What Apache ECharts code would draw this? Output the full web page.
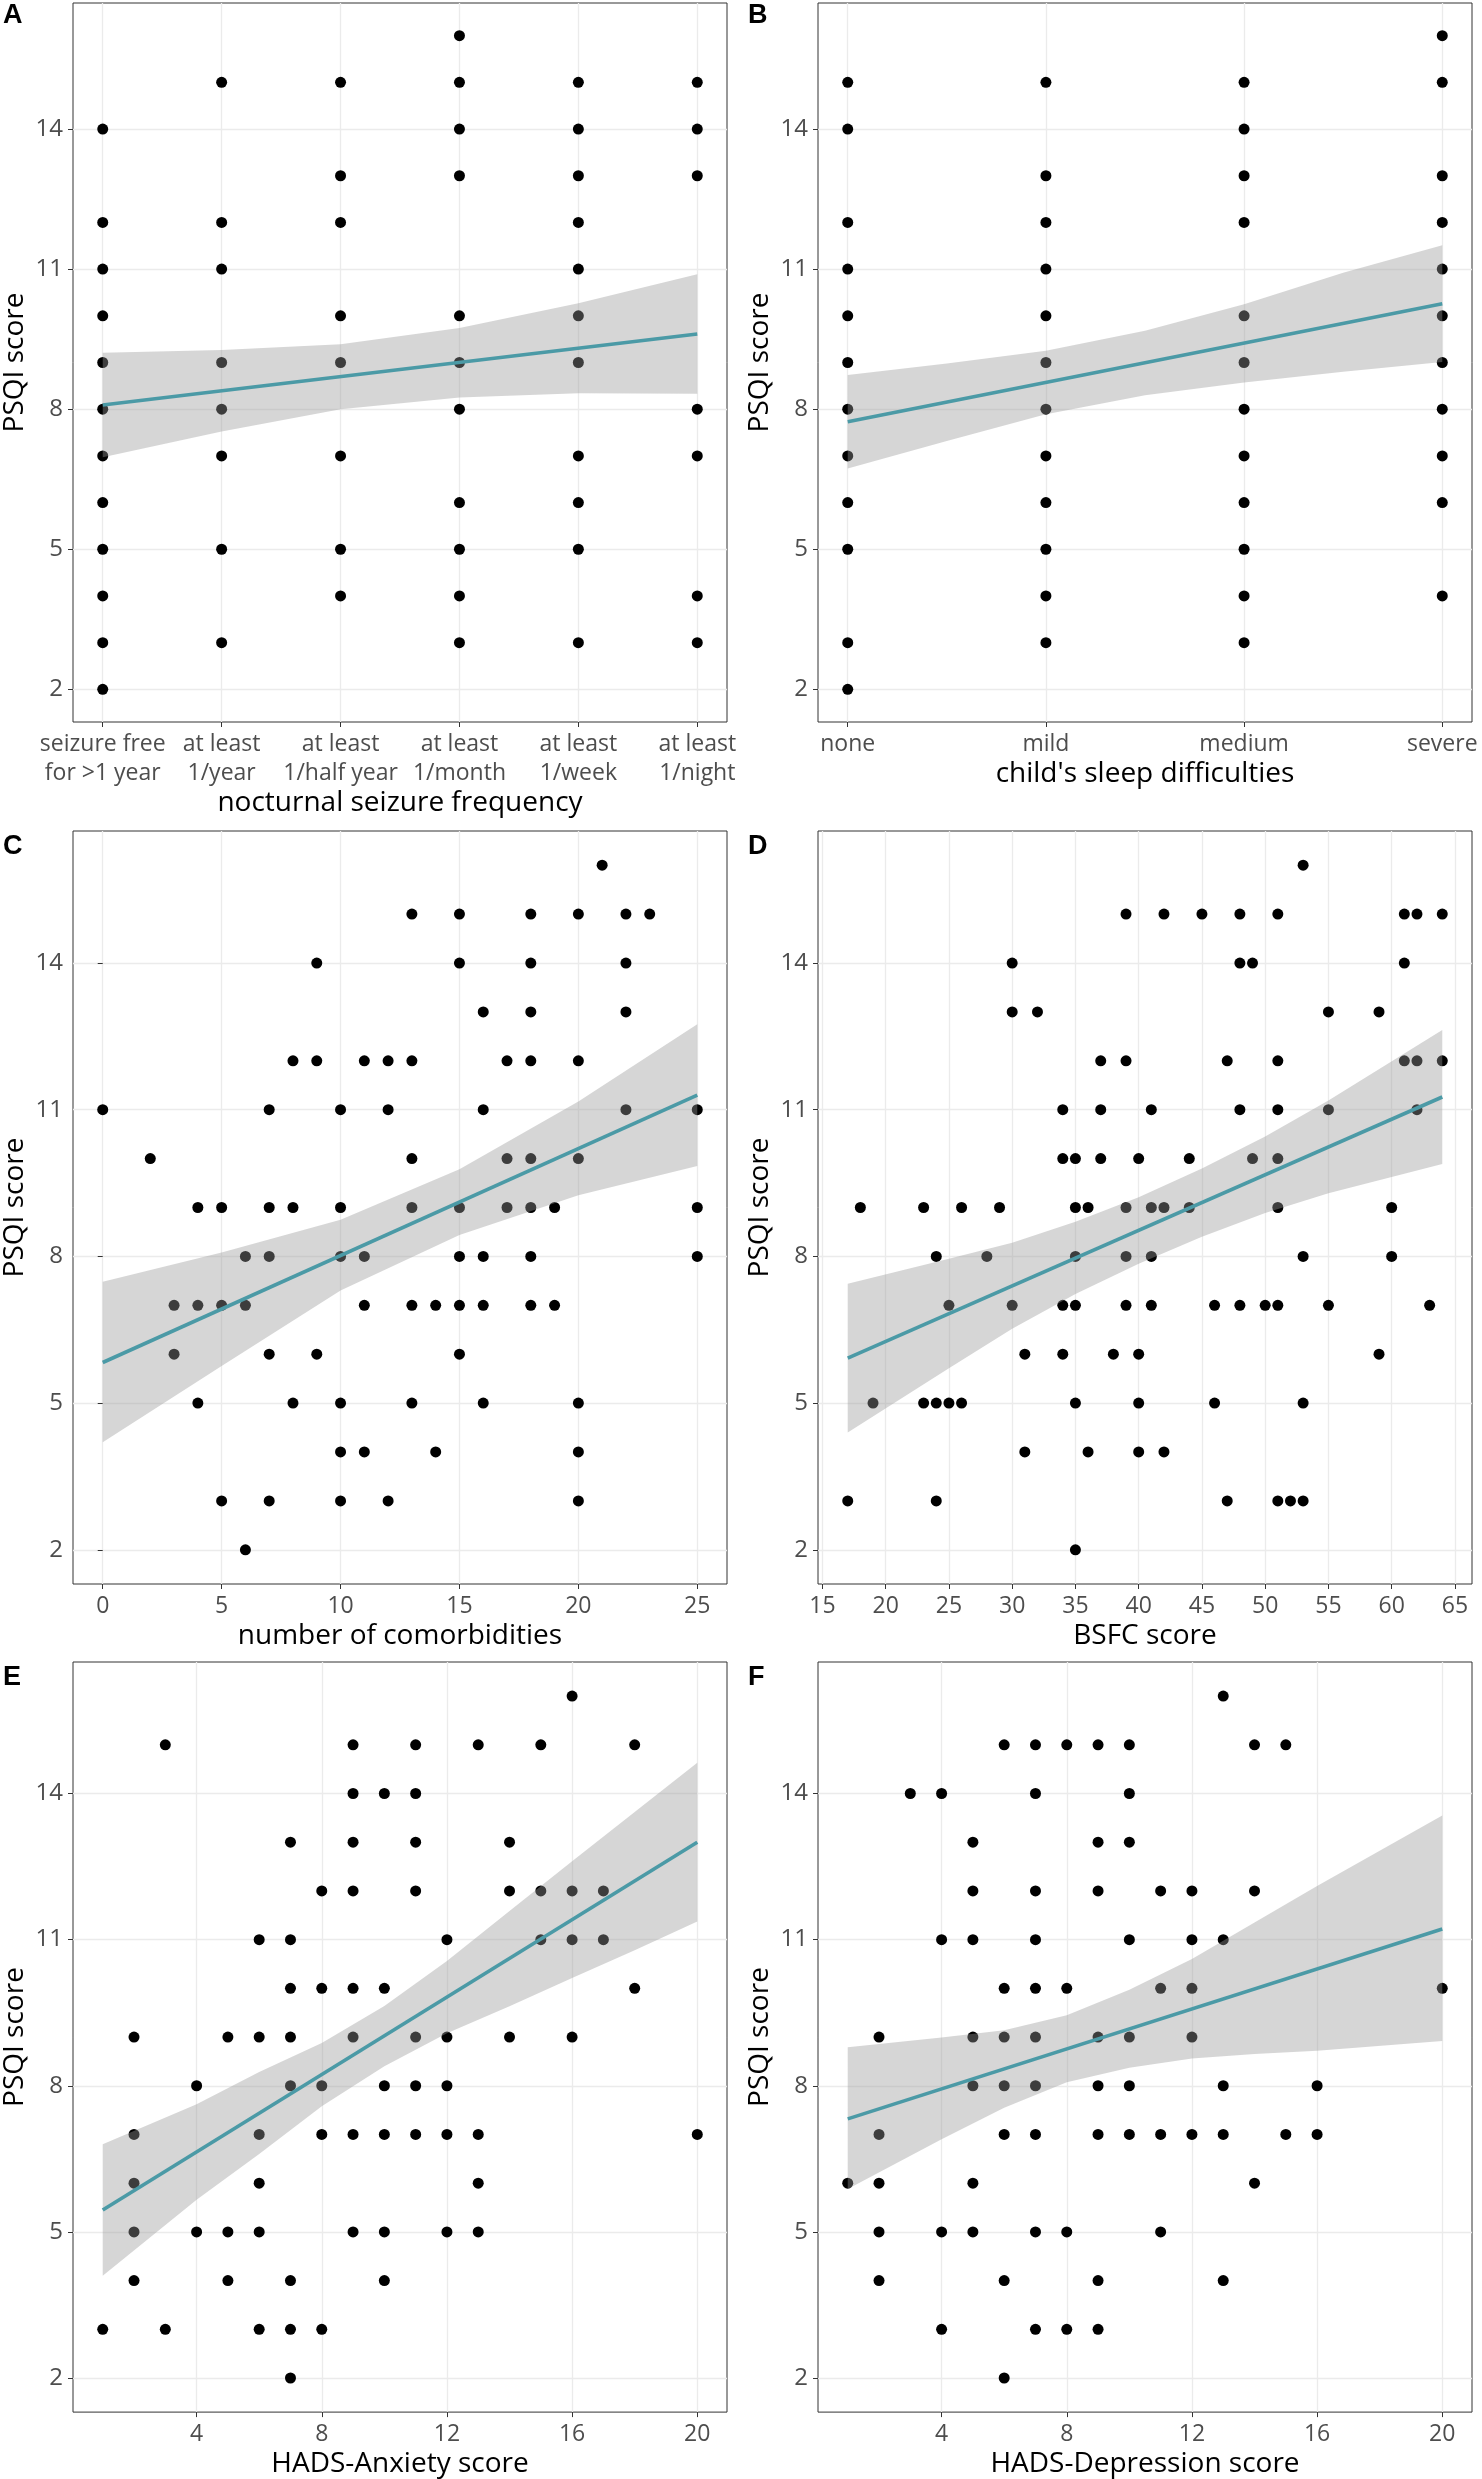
<!DOCTYPE html>
<html lang="en">
<head>
<meta charset="UTF-8">
<title>PSQI score</title>
<script src="https://cdn.jsdelivr.net/npm/echarts@6/dist/echarts.min.js"></script>
<style>
  html, body { margin: 0; padding: 0; background: #fff; }
  #main { width: 1482px; height: 2479px; }
</style>
</head>
<body>
<div id="main"></div>
<script type="text/javascript">
// ---- data ----
var psqiTicks = [2, 5, 8, 11, 14];

// A: nocturnal seizure frequency (one list of PSQI scores per category)
var seizureLabels = ['seizure free\nfor >1 year', 'at least\n1/year', 'at least\n1/half year',
                     'at least\n1/month', 'at least\n1/week', 'at least\n1/night'];
var seizureScores = [
    [14, 12, 11, 10, 9, 8, 7, 6, 5, 4, 3, 2],
    [15, 12, 11, 9, 8, 7, 5, 3],
    [15, 13, 12, 10, 9, 7, 5, 4],
    [16, 15, 14, 13, 10, 9, 8, 6, 5, 4, 3],
    [15, 14, 13, 12, 11, 10, 9, 7, 6, 5, 3],
    [15, 14, 13, 8, 7, 4, 3]
];
var seizureFit = [[1, 8.09], [6, 9.61]];
var seizureBandX = [1, 2, 3, 4, 5, 6];
var seizureBandLo = [6.97, 7.52, 8.00, 8.25, 8.34, 8.33];
var seizureBandHi = [9.21, 9.27, 9.39, 9.74, 10.27, 10.89];

// B: child's sleep difficulties
var sleepLabels = ['none', 'mild', 'medium', 'severe'];
var sleepScores = [
    [15, 14, 12, 11, 10, 9, 8, 7, 6, 5, 3, 2],
    [15, 13, 12, 11, 10, 9, 8, 7, 6, 5, 4, 3],
    [15, 14, 13, 12, 10, 9, 8, 7, 6, 5, 4, 3],
    [16, 15, 13, 12, 11, 10, 9, 8, 7, 6, 4]
];
var sleepFit = [[1, 7.73], [4, 10.26]];
var sleepBandX = [1, 1.5, 2, 2.5, 3, 3.5, 4];
var sleepBandLo = [6.73, 7.32, 7.89, 8.30, 8.57, 8.80, 9.01];
var sleepBandHi = [8.73, 8.98, 9.25, 9.68, 10.25, 10.92, 11.51];

// C: number of comorbidities
var comorbX = [0, 2, 3, 4, 5, 6, 7, 8, 9, 10, 11, 12, 13, 14, 15, 16, 17, 18, 19, 20, 21, 22, 23, 25];
var comorbScores = [
    [11], [10], [7, 6], [9, 7, 5], [9, 7, 3], [8, 7, 2], [11, 9, 8, 6, 3], [12, 9, 5],
    [14, 12, 6], [11, 9, 8, 5, 4, 3], [12, 8, 7, 4], [12, 11, 3], [15, 12, 10, 9, 7, 5],
    [7, 4], [15, 14, 9, 8, 7, 6], [13, 11, 8, 7, 5], [12, 10, 9], [15, 14, 13, 12, 10, 9, 8, 7],
    [9, 7], [15, 12, 10, 5, 4, 3], [16], [15, 14, 13, 11], [15], [11, 9, 8]
];
var comorbTicks = [0, 5, 10, 15, 20, 25];
var comorbFit = [[0, 5.83], [25, 11.30]];
var comorbBandX = [0, 5, 10, 15, 20, 25];
var comorbBandLo = [4.20, 5.76, 7.30, 8.44, 9.25, 9.85];
var comorbBandHi = [7.48, 8.08, 8.75, 9.78, 11.17, 12.75];

// D: BSFC score
var bsfcX = [17, 18, 19, 23, 24, 25, 26, 28, 29, 30, 31, 32, 34, 35, 36, 37, 38, 39, 40, 41, 42,
             44, 45, 46, 47, 48, 49, 50, 51, 52, 53, 55, 59, 60, 61, 62, 63, 64];
var bsfcScores = [
    [3], [9], [5], [9, 5], [8, 5, 3], [7, 5], [9, 5], [8], [9], [14, 13, 7], [6, 4], [13],
    [11, 10, 7, 6], [10, 9, 8, 7, 5, 2], [9, 4], [12, 11, 10], [6], [15, 12, 9, 8, 7],
    [10, 6, 5, 4], [11, 9, 8, 7], [15, 9, 4], [10, 9], [15], [7, 5], [12, 3], [15, 14, 11, 7],
    [14, 10], [7], [15, 12, 11, 10, 9, 7, 3], [3], [16, 8, 5, 3], [13, 11, 7], [13, 6], [9, 8],
    [15, 14, 12], [15, 12, 11], [7], [15, 12]
];
var bsfcTicks = [15, 20, 25, 30, 35, 40, 45, 50, 55, 60, 65];
var bsfcFit = [[17, 5.92], [64, 11.26]];
var bsfcBandX = [17, 25, 30, 35, 40, 45, 50, 55, 64];
var bsfcBandLo = [4.40, 5.71, 6.52, 7.23, 7.85, 8.40, 8.89, 9.29, 9.89];
var bsfcBandHi = [7.44, 7.95, 8.28, 8.71, 9.21, 9.80, 10.45, 11.19, 12.63];

// E: HADS-Anxiety score
var anxX = [1, 2, 3, 4, 5, 6, 7, 8, 9, 10, 11, 12, 13, 14, 15, 16, 17, 18, 20];
var anxScores = [
    [3], [9, 7, 6, 5, 4], [15, 3], [8, 5], [9, 5, 4], [11, 9, 7, 6, 5, 3],
    [13, 11, 10, 9, 8, 4, 3, 2], [12, 10, 8, 7, 3], [15, 14, 13, 12, 10, 9, 7, 5],
    [14, 10, 8, 7, 5, 4], [15, 14, 13, 12, 9, 8, 7], [11, 9, 8, 7, 5], [15, 7, 6, 5],
    [13, 12, 9], [15, 12, 11], [16, 12, 11, 9], [12, 11], [15, 10], [7]
];
var hadsTicks = [4, 8, 12, 16, 20];
var anxFit = [[1, 5.45], [20, 13.0]];
var anxBandX = [1, 4, 6, 8, 10, 12, 14, 16, 18, 20];
var anxBandLo = [4.10, 5.66, 6.60, 7.58, 8.40, 9.08, 9.63, 10.21, 10.78, 11.37];
var anxBandHi = [6.80, 7.62, 8.28, 8.88, 9.64, 10.56, 11.59, 12.61, 13.62, 14.63];

// F: HADS-Depression score
var depX = [1, 2, 3, 4, 5, 6, 7, 8, 9, 10, 11, 12, 13, 14, 15, 16, 20];
var depScores = [
    [6], [9, 7, 6, 5, 4], [14], [14, 11, 5, 3], [13, 12, 11, 9, 8, 6, 5],
    [15, 10, 9, 8, 7, 4, 2], [15, 14, 12, 11, 10, 9, 8, 7, 5, 3], [15, 10, 5, 3],
    [15, 13, 12, 9, 8, 7, 4, 3], [15, 14, 13, 11, 9, 8, 7], [12, 10, 7, 5],
    [12, 11, 10, 9, 7], [16, 11, 8, 7, 4], [15, 12, 6], [15, 7], [8, 7], [10]
];
var depFit = [[1, 7.32], [20, 11.22]];
var depBandX = [1, 4, 6, 8, 10, 12, 14, 16, 20];
var depBandLo = [5.88, 6.90, 7.55, 8.07, 8.37, 8.56, 8.65, 8.72, 8.92];
var depBandHi = [8.79, 8.99, 9.14, 9.45, 9.97, 10.60, 11.35, 12.10, 13.55];

// ---- chart ----
var FONT = 'Open Sans';
var lineColor = '#4b9aa6';
var bandColor = 'rgba(153,153,153,0.4)';

function toPoints(xs, groups) {
    var pts = [];
    for (var i = 0; i < xs.length; i++) {
        for (var j = 0; j < groups[i].length; j++) {
            pts.push([xs[i], groups[i][j]]);
        }
    }
    return pts;
}

function indexList(labels) {
    return labels.map(function (l, i) { return i + 1; });
}

var panels = [
    {xs: indexList(seizureLabels), scores: seizureScores, fit: seizureFit,
     bx: seizureBandX, lo: seizureBandLo, hi: seizureBandHi,
     min: 0.75, max: 6.25, ticks: indexList(seizureLabels), labels: seizureLabels,
     name: 'nocturnal seizure frequency', nameGap: 63},
    {xs: indexList(sleepLabels), scores: sleepScores, fit: sleepFit,
     bx: sleepBandX, lo: sleepBandLo, hi: sleepBandHi,
     min: 0.85, max: 4.15, ticks: indexList(sleepLabels), labels: sleepLabels,
     name: "child's sleep difficulties", nameGap: 34},
    {xs: comorbX, scores: comorbScores, fit: comorbFit,
     bx: comorbBandX, lo: comorbBandLo, hi: comorbBandHi,
     min: -1.25, max: 26.25, ticks: comorbTicks,
     name: 'number of comorbidities', nameGap: 32},
    {xs: bsfcX, scores: bsfcScores, fit: bsfcFit,
     bx: bsfcBandX, lo: bsfcBandLo, hi: bsfcBandHi,
     min: 14.65, max: 66.35, ticks: bsfcTicks,
     name: 'BSFC score', nameGap: 32},
    {xs: anxX, scores: anxScores, fit: anxFit,
     bx: anxBandX, lo: anxBandLo, hi: anxBandHi,
     min: 0.05, max: 20.95, ticks: hadsTicks,
     name: 'HADS-Anxiety score', nameGap: 32},
    {xs: depX, scores: depScores, fit: depFit,
     bx: depBandX, lo: depBandLo, hi: depBandHi,
     min: 0.05, max: 20.95, ticks: hadsTicks,
     name: 'HADS-Depression score', nameGap: 32}
];

var grids = [
    {left: 72, top: 3, width: 655, height: 719},
    {left: 818, top: 3, width: 654, height: 719},
    {left: 72, top: 831, width: 655, height: 753},
    {left: 818, top: 831, width: 654, height: 753},
    {left: 72, top: 1662, width: 655, height: 753},
    {left: 818, top: 1662, width: 654, height: 753}
];
grids.forEach(function (g) {
    g.show = true;
    g.borderColor = '#333333';
    g.borderWidth = 1;
    g.backgroundColor = 'transparent';
});

var xAxes = [], yAxes = [], series = [];

panels.forEach(function (p, i) {
    xAxes.push({
        type: 'value', gridIndex: i, min: p.min, max: p.max,
        name: p.name, nameLocation: 'middle', nameGap: p.nameGap,
        nameTextStyle: {fontFamily: FONT, fontSize: 28, color: '#000'},
        axisLine: {show: false},
        axisTick: {show: true, length: 5, lineStyle: {color: '#333'}, customValues: p.ticks},
        axisLabel: {
            fontFamily: FONT, fontSize: 23, color: '#4d4d4d', margin: 8, lineHeight: 29,
            customValues: p.ticks,
            formatter: p.labels ? function (v) { return p.labels[Math.round(v) - 1]; } : null
        },
        splitLine: {show: true, lineStyle: {color: '#ebebeb', width: 1.3}}
    });
    yAxes.push({
        type: 'value', gridIndex: i, min: 1.3, max: 16.7,
        name: 'PSQI score', nameLocation: 'middle', nameRotate: 90, nameGap: 44,
        nameTextStyle: {fontFamily: FONT, fontSize: 28, color: '#000'},
        axisLine: {show: false},
        axisTick: {show: true, length: 5, lineStyle: {color: '#333'}, customValues: psqiTicks},
        axisLabel: {fontFamily: FONT, fontSize: 24, color: '#4d4d4d', margin: 10, customValues: psqiTicks},
        splitLine: {show: true, lineStyle: {color: '#ebebeb', width: 1.3}}
    });

    series.push({
        type: 'scatter', xAxisIndex: i, yAxisIndex: i, z: 2,
        symbolSize: 11, itemStyle: {color: '#000', opacity: 1},
        data: toPoints(p.xs, p.scores)
    });

    // confidence band, drawn over the points like geom_smooth does
    series.push({
        type: 'custom', xAxisIndex: i, yAxisIndex: i, z: 3, silent: true,
        data: p.bx.map(function (x, k) { return [x, p.lo[k], p.hi[k]]; }),
        encode: {x: 0, y: [1, 2]},
        renderItem: function (params, api) {
            if (params.dataIndex !== 0) return null;
            var pts = [];
            for (var k = 0; k < p.bx.length; k++) pts.push(api.coord([p.bx[k], p.hi[k]]));
            for (var m = p.bx.length - 1; m >= 0; m--) pts.push(api.coord([p.bx[m], p.lo[m]]));
            return {type: 'polygon', shape: {points: pts}, style: {fill: bandColor}};
        }
    });

    series.push({
        type: 'line', xAxisIndex: i, yAxisIndex: i, z: 4,
        showSymbol: false, silent: true,
        lineStyle: {color: lineColor, width: 3.6},
        data: p.fit
    });
});

var letters = [['A', 3, 2], ['B', 748, 2], ['C', 3, 833], ['D', 748, 833], ['E', 3, 1664], ['F', 748, 1664]];
var graphic = letters.map(function (l) {
    return {
        type: 'text', left: l[1], top: l[2],
        style: {text: l[0], font: 'bold 27px "Liberation Sans"', fill: '#000'}
    };
});

var myChart = echarts.init(document.getElementById('main'), null, {renderer: 'canvas'});
myChart.setOption({
    backgroundColor: '#fff',
    animation: false,
    grid: grids,
    xAxis: xAxes,
    yAxis: yAxes,
    series: series,
    graphic: graphic
});
</script>
</body>
</html>
